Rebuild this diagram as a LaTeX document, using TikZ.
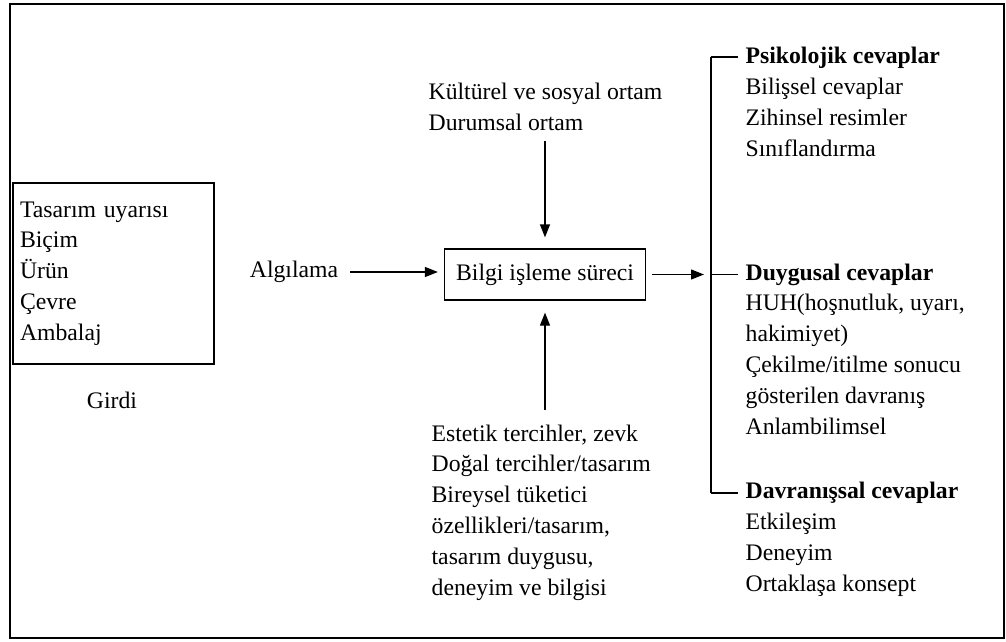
\documentclass[tikz,border=0pt]{standalone}
\usepackage{fontspec}
\setmainfont{Liberation Serif}
\usetikzlibrary{arrows.meta,positioning}

\begin{document}
\begin{tikzpicture}[x=1pt,y=-1pt,line width=1.3pt,
    txt/.style={align=left,inner sep=0pt,anchor=base west,font=\fontsize{23.7}{30.8}\selectfont},
    arr/.style={line width=1.3pt,-{Triangle[length=13pt,width=10pt]}}]
  \useasboundingbox (0,0) rectangle (1006,641);
  % Outer frame
  \draw[line width=2.5pt] (10,4) rectangle (1004,638);

  % Input box and its label
  \node[draw, align=left, text width=187pt, minimum height=181pt, inner xsep=7pt,
        font=\fontsize{23.7}{30.8}\selectfont] (girdi) at (113.5,273.5)
        {Tasarım uyarısı\\Biçim\\Ürün\\Çevre\\Ambalaj};
  \node[font=\fontsize{23.7}{30.8}\selectfont] (girdilbl) at (112,400) {Girdi};

  % Perception and processing
  \node[font=\fontsize{23.7}{30.8}\selectfont] (algilama) at (294,272) {Algılama};
  \node[draw, minimum width=201pt, minimum height=51pt,
        font=\fontsize{23.7}{30.8}\selectfont] (bilgi) at (545,274.5) {Bilgi işleme süreci};
  \draw[arr, shorten <=8pt, shorten >=6pt] (algilama.east) -- (algilama.east -| bilgi.west);

  % Context above, preferences below (anchored at last baseline)
  \node[txt] (kultur) at (428,130) {Kültürel ve sosyal ortam\\Durumsal ortam};
  \node[txt] (estetik) at (431,595) {Estetik tercihler, zevk\\Doğal tercihler/tasarım\\Bireysel tüketici\\özellikleri/tasarım,\\tasarım duygusu,\\deneyim ve bilgisi};
  \draw[arr, shorten <=10pt, shorten >=11pt] (bilgi.north |- kultur.south) -- (bilgi.north);
  \draw[arr, shorten <=14pt, shorten >=12pt] (bilgi.south |- estetik.north) -- (bilgi.south);

  % Responses with bracket
  \coordinate (b1) at (711,57);
  \coordinate (b2) at (711,274.5);
  \coordinate (b3) at (711,493);
  \node[txt] (psiko) at (745,156) {\textbf{Psikolojik cevaplar}\\Bilişsel cevaplar\\Zihinsel resimler\\Sınıflandırma};
  \node[txt] (duygu) at (745,434) {\textbf{Duygusal cevaplar}\\HUH(hoşnutluk, uyarı,\\hakimiyet)\\Çekilme/itilme sonucu\\gösterilen davranış\\Anlambilimsel};
  \node[txt] (davran) at (745,591) {\textbf{Davranışsal cevaplar}\\Etkileşim\\Deneyim\\Ortaklaşa konsept};
  \draw (b1) -- (b3);
  \draw[shorten >=7pt] (b1) -- (b1 -| psiko.west);
  \draw[shorten >=7pt] (b2) -- (b2 -| duygu.west);
  \draw[shorten >=7pt] (b3) -- (b3 -| davran.west);
  \draw[arr, shorten <=6pt, shorten >=7pt] (bilgi.east) -- (b2);
\end{tikzpicture}
\end{document}
